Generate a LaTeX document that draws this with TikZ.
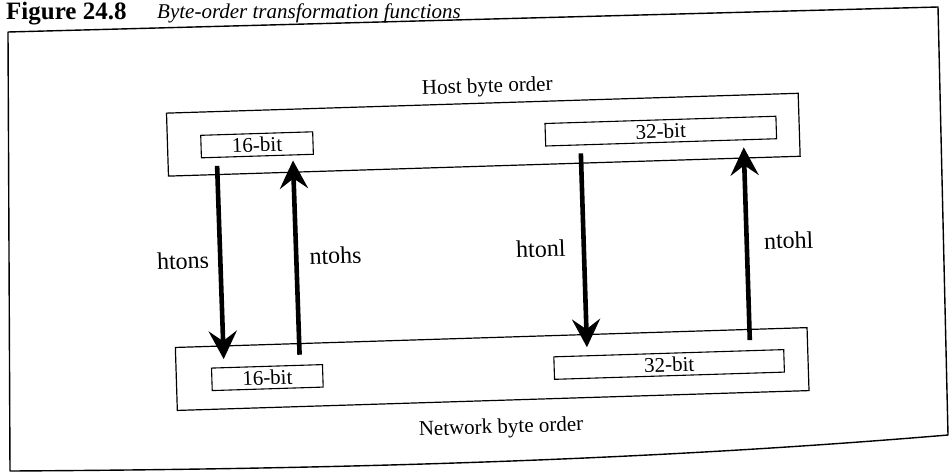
\documentclass[tikz,border=0pt]{standalone}
\usepackage{fontspec}
\setmainfont{Liberation Serif}
\usetikzlibrary{arrows.meta,calc}
\begin{document}
\begin{tikzpicture}[x=1pt,y=-1pt,
  box/.style={draw, line width=1.1pt, inner sep=0pt, minimum height=22.5pt, font=\fontsize{21}{23}\selectfont},
  group/.style={draw, line width=1.2pt, inner sep=0pt, minimum width=632pt, minimum height=63pt},
  lbl/.style={inner sep=0pt, font=\fontsize{24}{26}\selectfont},
  grouplabel/.style={inner sep=0pt, font=\fontsize{21}{23}\selectfont},
  arr/.style={line width=4.6pt, -{Stealth[length=28pt,width=28pt,inset=10pt]}},
  outerframe/.style={draw, line width=1.4pt, line join=round}
]
\useasboundingbox (0,0) rectangle (950,472);
\clip (0,0) rectangle (950,472);
\fill[white] (0,0) rectangle (950,472);
% title
\node[anchor=base west, inner sep=0pt, font=\fontsize{25}{28}\selectfont\bfseries] (fig) at (6,19) {Figure 24.8};
\node[anchor=base west, inner sep=0pt, font=\fontsize{21}{24}\selectfont\itshape] (ttl) at (157,18) {Byte-order transformation functions};
% outer frame (slightly skewed, as in the scan)
\path[outerframe] (8,32) -- (938,7) -- (948,435) .. controls (650,460) and (350,469) .. (10,471) -- cycle;
\begin{scope}[rotate around={1.8:(475,236)}, transform shape]
  % group boxes
  \node[group] (host) at (486.5,135) {};
  \node[group] (net) at (488,369.5) {};
  \node[grouplabel] (hostlbl) at (492,88) {Host byte order};
  \node[grouplabel] (netlbl) at (495,429) {Network byte order};
  % inner boxes
  \node[box, minimum width=112pt] (h16) at (260,138) {16-bit};
  \node[box, minimum width=231pt] (h32) at (664,137) {32-bit};
  \node[box, minimum width=111pt] (n16) at (263,371) {16-bit};
  \node[box, minimum width=230pt] (n32) at (665,370.5) {32-bit};
  % arrows
  \draw[arr] ($(h16.south west)+(16,8)$) -- node[lbl, pos=0.5, anchor=east, xshift=-9pt, yshift=3pt] {htons} ($(n16.north west)+(13,-8)$);
  \draw[arr] ($(n16.north west)+(89,-10)$) -- node[lbl, pos=0.5, anchor=west, xshift=11pt, yshift=1pt] {ntohs} ($(h16.south west)+(92,5)$);
  \draw[arr] ($(h32.south west)+(35.5,8)$) -- node[lbl, pos=0.5, anchor=east, xshift=-16pt, yshift=3pt] {htonl} ($(n32.north west)+(34,-8)$);
  \draw[arr] ($(n32.north west)+(197,-10)$) -- node[lbl, pos=0.5, anchor=west, xshift=15pt, yshift=2pt] {ntohl} ($(h32.south west)+(198.5,7)$);
\end{scope}
\end{tikzpicture}
\end{document}
